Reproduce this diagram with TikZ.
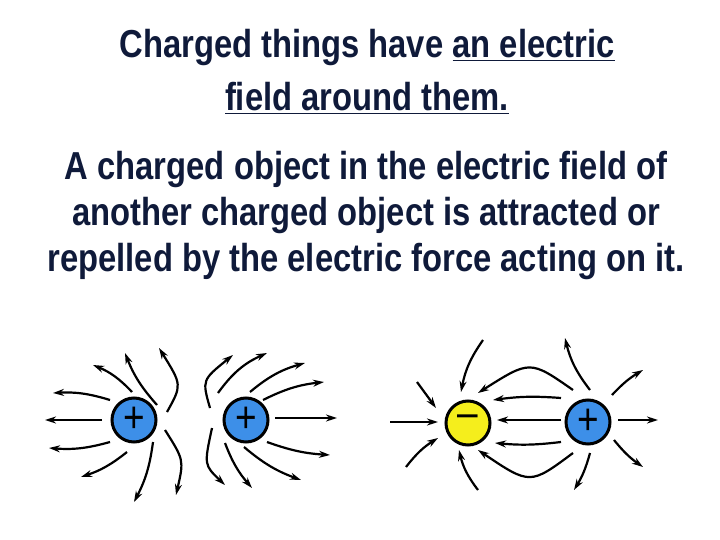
\documentclass[tikz,border=0pt]{standalone}
\usepackage{fontspec}
\setmainfont[FakeStretch=0.84]{Liberation Sans}
\usetikzlibrary{arrows.meta}
\definecolor{navy}{HTML}{0F1A3A}
\definecolor{qblue}{HTML}{3D8FE8}
\definecolor{qyellow}{HTML}{F5EE1C}
\newcommand{\ul}[1]{\underline{#1}}
\begin{document}
\begin{tikzpicture}[x=1pt,y=-1pt,
  txt/.style={font=\bfseries\fontsize{39}{44}\selectfont,text=navy,align=center},
  charge/.style={circle,draw=black,line width=3pt,minimum size=44pt,inner sep=0pt,font=\fontsize{44}{44}\selectfont},
  fl/.style={line width=2.2pt,-{Stealth[length=11pt,width=7pt]}}]
\useasboundingbox (0,0) rectangle (720,540);
\fill[white] (0,0) rectangle (720,540);
\node[txt] (t1) at (367,48) {Charged things have \ul{an electric}};
\node[txt] (t2) at (367,98) {\ul{field around them.}};
\node[txt] (p1) at (366,170) {A charged object in the electric field of};
\node[txt] (p2) at (366,216) {another charged object is attracted or};
\node[txt] (p3) at (366,262) {repelled by the electric force acting on it.};
\node[charge,fill=qblue] (A) at (134,420) {+};
\node[charge,fill=qblue] (B) at (246,420) {+};
\node[charge,fill=qyellow] (C) at (468,423) {\raisebox{3pt}{--}};
\node[charge,fill=qblue] (D) at (588,422) {+};
% A
\draw[fl] (102,420) -- (45,420);
\draw[fl] (110,400) to[bend right=10] (53,393);
\draw[fl] (110,442) to[bend left=10] (49,448);
\draw[fl] (132,392) to[bend right=12] (93,365);
\draw[fl] (157,405) to[bend left=10] (125,353);
\draw[fl] (167,412) .. controls (182,385) .. (159,348);
\draw[fl] (127,452) to[bend left=10] (81,477);
\draw[fl] (153,442) to[bend left=10] (134,502);
\draw[fl] (165,430) .. controls (184,460) .. (176,495);
% B
\draw[fl] (275,418) -- (337,418);
\draw[fl] (263,400) to[bend left=10] (324,382);
\draw[fl] (250,392) to[bend left=12] (305,363);
\draw[fl] (218,393) to[bend left=15] (267,353);
\draw[fl] (210,408) .. controls (202,380) .. (233,355);
\draw[fl] (267,442) to[bend right=8] (330,455);
\draw[fl] (244,447) to[bend right=10] (301,480);
\draw[fl] (225,443) to[bend right=10] (252,488);
\draw[fl] (212,428) .. controls (204,465) .. (225,485);
% C
\draw[fl] (390,422) -- (438,422);
\draw[fl] (417,382) -- (436,408);
\draw[fl] (406,467) to[bend left=10] (438,438);
\draw[fl] (483,340) to[bend right=12] (461,392);
\draw[fl] (478,490) to[bend left=12] (459,450);
% C-D
\draw[fl] (561,420) -- (497,420);
\draw[fl] (561,398) to[bend right=6] (493,400);
\draw[fl] (561,442) to[bend left=6] (495,443);
\draw[fl] (573,390) .. controls (530,360) .. (478,393);
\draw[fl] (573,453) .. controls (530,485) .. (478,450);
% D
\draw[fl] (618,420) -- (658,420);
\draw[fl] (612,395) to[bend left=8] (643,370);
\draw[fl] (614,440) to[bend right=8] (643,467);
\draw[fl] (590,390) to[bend left=12] (565,338);
\draw[fl] (590,453) to[bend left=8] (574,490);
\end{tikzpicture}
\end{document}
